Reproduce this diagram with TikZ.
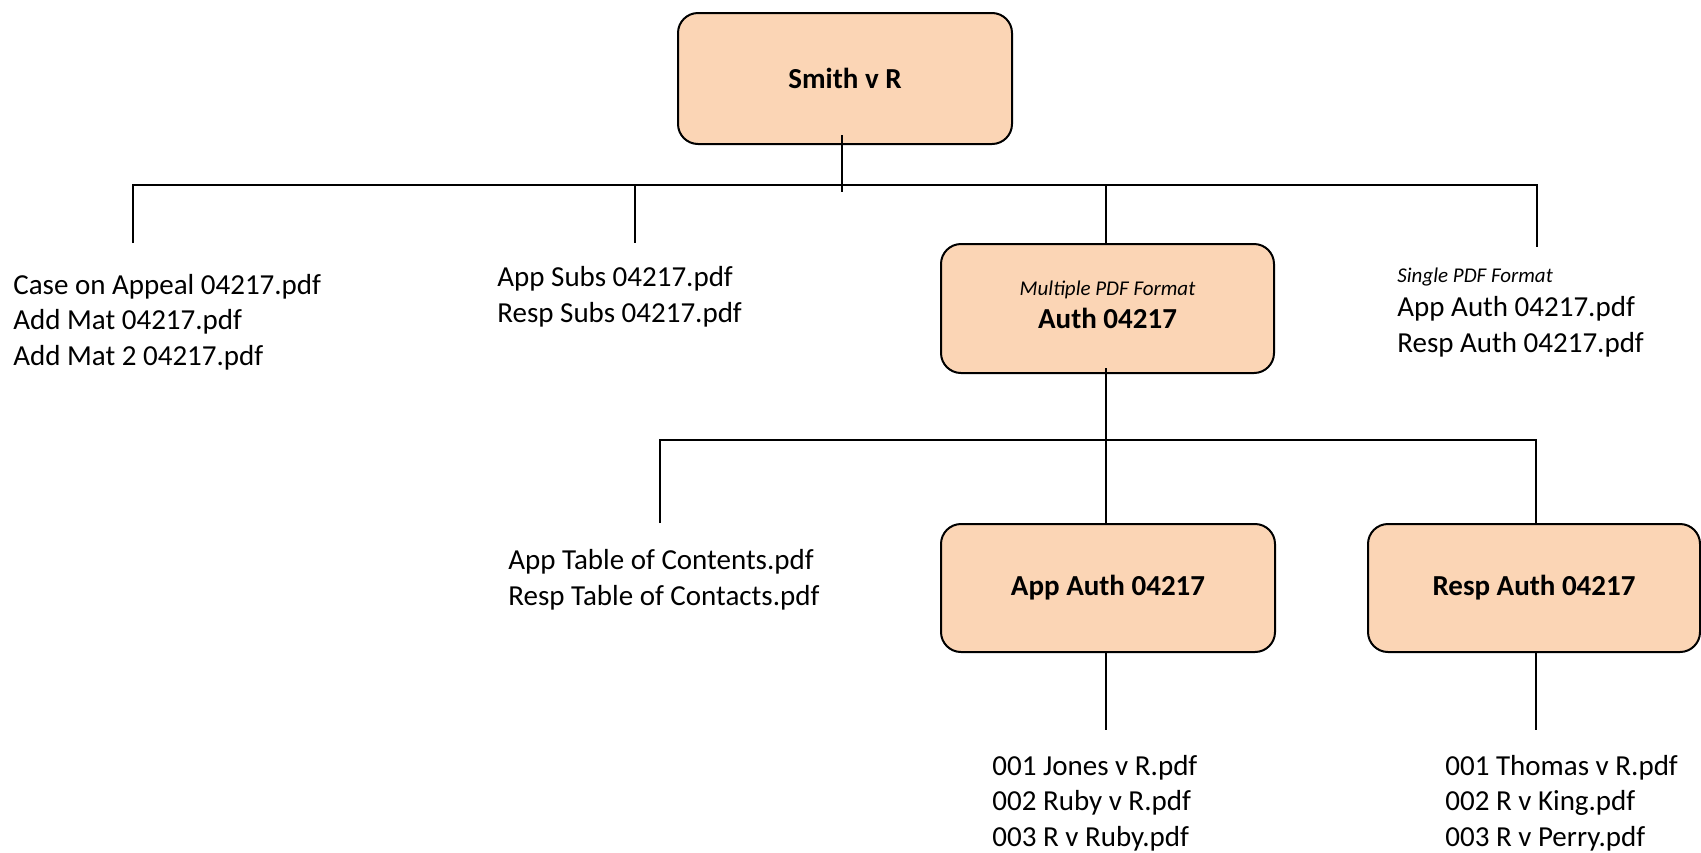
\documentclass[tikz,border=0pt]{standalone}
\usepackage{fontspec}
\setmainfont{Carlito}
\definecolor{peach}{HTML}{FBD5B5}
\begin{document}
\begin{tikzpicture}[x=0.5pt,y=-0.5pt,
  box/.style={draw=black, line width=1pt, fill=peach, rounded corners=10pt,
    inner sep=0pt, align=center, font=\fontsize{14.5}{17.7}\selectfont\bfseries},
  files/.style={inner sep=0pt, anchor=base west, align=left,
    font=\fontsize{14.5}{17.7}\selectfont},
  note/.style={inner sep=0pt, anchor=base west,
    font=\fontsize{10.5}{12}\selectfont\itshape},
  conn/.style={draw=black, line width=0.9pt}]
\useasboundingbox (0,0) rectangle (1701,852);

% boxes
\node[box, minimum width=167pt, minimum height=65.5pt] (smith) at (845,78.5) {Smith v R};
\node[box, minimum width=166.5pt, minimum height=64.5pt, text depth=3.8pt] (auth) at (1107.5,308.5)
  {{\fontsize{10.5}{12}\selectfont\mdseries\itshape Multiple PDF Format}\\[-1.5pt]Auth 04217};
\node[box, minimum width=167pt, minimum height=64pt] (appauth) at (1108,588) {App Auth 04217};
\node[box, minimum width=166pt, minimum height=64pt] (respauth) at (1534,588) {Resp Auth 04217};

% text blocks (anchor at the baseline of the last line)
\node[files] (caseapp) at (13,365) {Case on Appeal 04217.pdf\\Add Mat 04217.pdf\\Add Mat 2 04217.pdf};
\node[files] (subs) at (497,322) {App Subs 04217.pdf\\Resp Subs 04217.pdf};
\node[note] (single) at (1397,282) {Single PDF Format};
\node[files] (singlefiles) at (1397,352) {App Auth 04217.pdf\\Resp Auth 04217.pdf};
\node[files] (toc) at (508,605) {App Table of Contents.pdf\\Resp Table of Contacts.pdf};
\node[files] (appfiles) at (992,846) {001 Jones v R.pdf\\002 Ruby v R.pdf\\003 R v Ruby.pdf};
\node[files] (respfiles) at (1445,846) {001 Thomas v R.pdf\\002 R v King.pdf\\003 R v Perry.pdf};

% junction coordinates
\coordinate (b1L) at (133,185);
\coordinate (b1S) at (635,185);
\coordinate (b1A) at (1106,185);
\coordinate (b1R) at (1537,185);
\coordinate (s1end) at (842,192);
\coordinate (d1) at (133,243);
\coordinate (d2) at (635,243);
\coordinate (d4) at (1537,247);
\coordinate (b2L) at (660,440);
\coordinate (b2M) at (1106,440);
\coordinate (b2R) at (1536,440);
\coordinate (d5) at (660,523);
\coordinate (e1) at (1106,730);
\coordinate (e2) at (1536,730);

% connectors
\draw[conn] ([xshift=-1.5pt,yshift=5pt]smith.south) -- (s1end);
\draw[conn] (d1) -- (b1L) -- (b1R) -- (d4);
\draw[conn] (b1S) -- (d2);
\draw[conn] (b1A) -- ([xshift=-0.75pt]auth.north);
\draw[conn] ([xshift=-0.75pt,yshift=3pt]auth.south) -- (b2M);
\draw[conn] (d5) -- (b2L) -- (b2R) -- ([xshift=1pt]respauth.north);
\draw[conn] (b2M) -- ([xshift=-1pt]appauth.north);
\draw[conn] ([xshift=-1pt]appauth.south) -- (e1);
\draw[conn] ([xshift=1pt]respauth.south) -- (e2);
\end{tikzpicture}
\end{document}
